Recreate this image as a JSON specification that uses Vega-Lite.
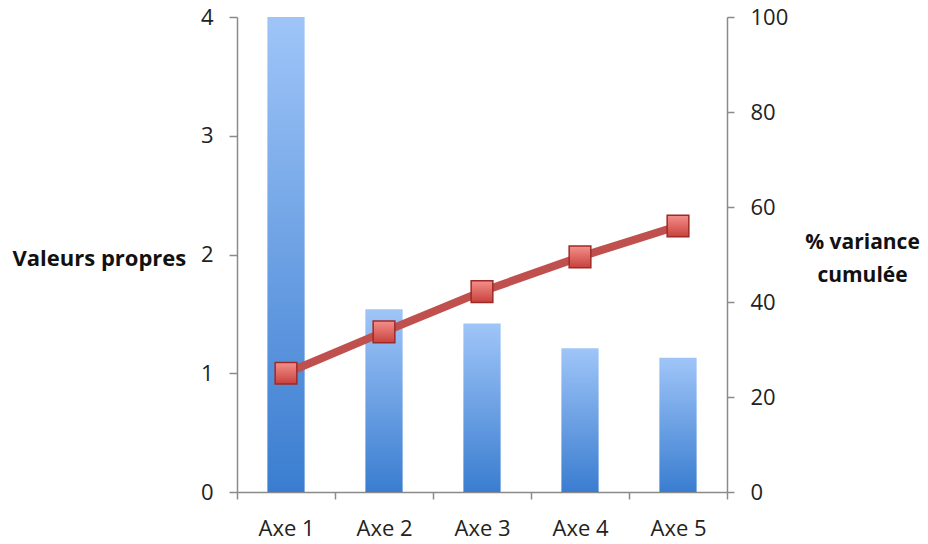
{
  "$schema": "https://vega.github.io/schema/vega-lite/v6.json",
  "autosize": "none",
  "width": 490,
  "height": 475,
  "padding": {"left": 237, "top": 17, "right": 201, "bottom": 52},
  "background": "white",
  "config": {
    "view": {"stroke": null},
    "font": "Open Sans",
    "axis": {
      "labelFont": "Open Sans",
      "labelFontSize": 22,
      "labelColor": "#222222",
      "domainColor": "#8a8a8a",
      "tickColor": "#8a8a8a",
      "domainWidth": 1.5,
      "tickWidth": 1.5,
      "tickSize": 7,
      "grid": false,
      "titleFont": "Open Sans",
      "titleFontWeight": "bold",
      "titleFontSize": 22,
      "titleColor": "#111111"
    }
  },
  "data": {
    "values": [
      {"axe": "Axe 1", "valeur": 4.0, "cumul": 25.0},
      {"axe": "Axe 2", "valeur": 1.54, "cumul": 33.7},
      {"axe": "Axe 3", "valeur": 1.42, "cumul": 42.2},
      {"axe": "Axe 4", "valeur": 1.21, "cumul": 49.5},
      {"axe": "Axe 5", "valeur": 1.13, "cumul": 56.0}
    ]
  },
  "encoding": {
    "x": {
      "field": "axe",
      "type": "nominal",
      "sort": null,
      "scale": {"paddingInner": 0, "paddingOuter": 0},
      "axis": {"title": null, "labelAngle": 0, "tickBand": "extent", "labelPadding": 19, "tickSize": 7}
    }
  },
  "layer": [
    {
      "mark": {
        "type": "bar",
        "clip": true,
        "width": {"band": 0.38},
        "color": {
          "gradient": "linear",
          "x1": 0, "y1": 0, "x2": 0, "y2": 1,
          "stops": [
            {"offset": 0, "color": "#9fc5f8"},
            {"offset": 1, "color": "#3a7dd0"}
          ]
        }
      },
      "encoding": {
        "y": {
          "field": "valeur",
          "type": "quantitative",
          "scale": {"domain": [0, 4], "nice": false},
          "axis": {
            "title": "Valeurs propres",
            "titleAngle": 0,
            "titleAlign": "left",
            "titleBaseline": "middle",
            "titleX": -225,
            "titleY": 241,
            "values": [0, 1, 2, 3, 4],
            "labelPadding": 16,
            "tickSize": 8
          }
        }
      }
    },
    {
      "mark": {"type": "line", "color": "#c0504d", "strokeWidth": 8},
      "encoding": {
        "y": {
          "field": "cumul",
          "type": "quantitative",
          "scale": {"domain": [0, 100], "nice": false},
          "axis": {
            "orient": "right",
            "title": ["% variance", "cumulée"],
            "titleAngle": 0,
            "titleAlign": "center",
            "titleBaseline": "middle",
            "titleFontSize": 21,
            "titleX": 135,
            "titleY": 225,
            "titleLineHeight": 33,
            "values": [0, 20, 40, 60, 80, 100],
            "labelPadding": 16,
            "tickSize": 7
          }
        }
      }
    },
    {
      "mark": {
        "type": "point",
        "shape": "square",
        "size": 470,
        "filled": true,
        "opacity": 1,
        "stroke": "#9e2a27",
        "strokeWidth": 1.5,
        "fill": {
          "gradient": "linear",
          "x1": 0, "y1": 0, "x2": 0, "y2": 1,
          "stops": [
            {"offset": 0, "color": "#f4908b"},
            {"offset": 1, "color": "#c8413d"}
          ]
        }
      },
      "encoding": {
        "y": {"field": "cumul", "type": "quantitative", "scale": {"domain": [0, 100], "nice": false}, "axis": null}
      }
    }
  ],
  "resolve": {"scale": {"y": "independent"}}
}
